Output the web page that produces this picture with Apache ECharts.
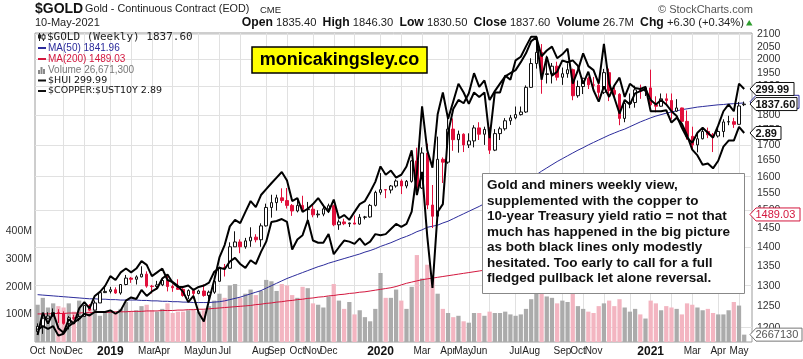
<!DOCTYPE html>
<html><head><meta charset="utf-8">
<script src="https://cdn.jsdelivr.net/npm/echarts@6/dist/echarts.min.js"></script>
<style>html,body{margin:0;padding:0;background:#fff}#c{width:803px;height:359px}</style>
</head><body><div id="c"></div>
<script>
// ---------- data (weekly, first week = 2018-10-01) ----------
const opens = [1191,1203,1222,1227,1235,1233,1210,1223,1222,1226,
1252,1241,1258,1283,1286,1290,1282,1303,1319,1316,
1322,1329,1299,1298,1302,1313,1298,1295,1291,1276,
1288,1281,1287,1276,1284,1311,1346,1344,1400,1413,
1400,1416,1426,1419,1457,1509,1523,1537,1529,1515,
1499,1515,1503,1504,1488,1490,1505,1514,1460,1468,
1463,1465,1462,1481,1482,1515,1553,1561,1560,1572,
1587,1572,1586,1649,1566,1674,1516,1484,1654,1645,
1752,1717,1735,1700,1713,1756,1735,1751,1683,1737,
1753,1780,1790,1801,1810,1897,1985,2028,1944,1947,
1975,1934,1947,1962,1867,1900,1930,1906,1905,1879,
1951,1886,1872,1788,1840,1843,1888,1883,1895,1835,
1830,1856,1850,1813,1824,1778,1728,1700,1720,1744,
1733,1729,1744,1776,1777,1768,1835.4];
const highs = [1210,1233,1236,1245,1243,1238,1227,1230,1232,1252,
1255,1264,1285,1300,1297,1296,1304,1327,1322,1326,
1349,1336,1302,1312,1320,1326,1303,1316,1296,1291,
1292,1290,1303,1288,1314,1348,1355,1412,1442,1420,
1424,1453,1434,1464,1520,1546,1546,1565,1566,1519,
1531,1543,1525,1519,1501,1513,1520,1517,1475,1477,
1466,1486,1490,1485,1519,1558,1611,1563,1575,1592,
1592,1590,1651,1691,1692,1704,1575,1727,1660,1788,
1788,1747,1738,1738,1765,1775,1760,1758,1752,1760,
1789,1800,1829,1829,1904,2005,2089,2060,2015,1987,
1992,1970,1986,1966,1922,1932,1936,1935,1914,1965,
1966,1897,1876,1848,1875,1903,1907,1902,1962,1865,
1875,1875,1875,1855,1825,1815,1760,1740,1755,1757,
1739,1760,1785,1797,1790,1845,1846.3];
const lows = [1187,1186,1220,1225,1211,1207,1196,1218,1215,1226,
1239,1240,1258,1282,1281,1280,1278,1301,1307,1303,
1321,1295,1281,1291,1299,1286,1285,1290,1273,1267,
1267,1279,1273,1266,1280,1310,1323,1342,1400,1383,
1395,1400,1412,1400,1455,1480,1500,1522,1506,1485,
1495,1497,1465,1481,1480,1484,1493,1456,1446,1459,
1454,1461,1460,1475,1480,1512,1546,1536,1550,1567,
1548,1565,1582,1563,1563,1504,1451,1480,1581,1640,
1681,1675,1677,1690,1692,1716,1700,1671,1680,1716,
1747,1766,1785,1798,1807,1895,1966,1874,1911,1911,
1922,1906,1932,1851,1860,1873,1891,1894,1860,1873,
1848,1858,1765,1775,1823,1825,1856,1866,1830,1809,
1828,1832,1785,1810,1764,1717,1687,1676,1718,1722,
1677,1724,1725,1765,1756,1767,1830.5];
const closes = [1203,1222,1227,1235,1233,1210,1223,1222,1226,1252,
1241,1258,1283,1286,1290,1282,1303,1319,1316,1322,
1329,1299,1298,1302,1313,1298,1295,1291,1276,1288,
1281,1287,1276,1284,1311,1346,1344,1400,1413,1400,
1416,1426,1419,1457,1509,1523,1537,1529,1515,1499,
1515,1503,1504,1488,1490,1505,1514,1460,1468,1463,
1465,1462,1481,1482,1515,1553,1561,1560,1572,1587,
1572,1586,1649,1566,1674,1516,1484,1654,1645,1752,
1717,1735,1700,1713,1756,1735,1751,1683,1737,1753,
1780,1790,1801,1810,1897,1985,2028,1944,1947,1975,
1934,1947,1962,1867,1900,1930,1906,1905,1879,1951,
1886,1872,1788,1840,1843,1888,1883,1895,1835,1830,
1856,1850,1813,1824,1778,1728,1700,1720,1744,1733,
1729,1744,1776,1777,1768,1831,1837.6];
// volume, millions
const volumes = [135,160,125,140,130,125,140,110,150,130,
120,125,95,110,115,105,120,145,110,115,
130,135,115,110,120,140,105,110,110,115,
120,110,115,130,150,175,160,205,210,160,
175,190,170,185,225,220,185,210,205,170,
160,200,195,140,135,125,165,210,150,120,
145,100,115,90,75,120,250,160,160,190,
150,120,200,315,230,280,230,175,120,105,
90,95,75,70,105,105,95,110,105,105,
110,100,95,100,120,155,185,185,165,160,
140,150,145,180,130,120,110,105,130,140,
150,130,155,125,110,120,100,85,150,140,
115,130,125,120,100,140,135,125,115,120,
105,100,100,115,145,132,26.6713];
const ma50 = [1278,1277,1276,1275,1274,1273,1272,1271,1270,1269,1268,1268,1267,1267,
1266,1266,1265,1265,1265,1265,1264,1264,1263,1263,1262,1262,1261,1261,1260,1260,1259,1259,1259,1259,1260,
1261,1263,1266,1269,1272,1276,1280,1284,1288,1294,1300,1306,1312,1318,1323,1328,1333,1338,
1343,1348,1352,1357,1361,1365,1369,1373,1377,1381,1386,1390,1395,
1401,1406,1411,1417,1423,1428,1434,1441,1446,1453,1456,1459,1465,
1470,1477,1484,1491,1498,1505,1512,1520,1528,1535,1543,1551,1559,
1567,1576,1585,1595,1606,1617,1627,1637,1647,1656,1665,1674,1683,
1691,1700,1708,1716,1724,1732,1739,1746,1752,1760,1768,1776,1783,
1790,1796,1801,1806,1810,1814,1818,1821,1824,1827,1829,1831,1833,1835,1836,1838,1839,1840,1841.96];
const ma200 = [1232,1232,1232,1233,1233,1233,1234,1234,1234,1235,1235,1235,1236,1236,1236,1237,1237,1237,
1238,1238,1238,1239,1239,1239,1240,1240,1240,1241,1241,1242,1242,1243,1243,1244,1245,1246,
1247,1248,1249,1250,1251,1252,1254,1255,1257,1258,1260,1261,1263,1264,1266,1267,1269,1270,
1272,1273,1275,1276,1278,1279,1281,1282,1284,1285,1287,1289,1291,1293,1295,1298,1302,1306,
1309,1312,1315,1317,1319,1321,1323,1325,1327,1329,1331,1333,1335,1337,1339,
1342,1345,1348,1351,1354,1357,1360,1363,1366,1369,1372,1375,1378,1381,1384,1387,1390,1393,1396,1399,
1402,1405,1408,1411,1414,1417,1420,1423,1426,1429,1432,1435,1438,1441,1444,1447,1450,1453,1456,1459,
1462,1465,1468,1471,1474,1477,1480,1483,1486,1489.03];
const hui = [140,150,145,150,143,141,147,145,152,155,
152,158,160,163,168,166,170,172,170,172,
176,174,168,170,172,166,165,163,160,155,
158,150,146,156,166,178,185,196,200,198,
205,212,208,216,220,224,228,232,226,212,
214,205,207,210,214,209,205,213,201,203,
200,205,210,212,218,225,236,230,233,228,
230,236,248,216,232,190,162,205,210,262,
282,290,287,296,315,302,308,290,298,305,
312,315,318,326,335,348,352,332,338,342,
330,334,340,305,318,335,322,318,305,345,
305,292,278,290,286,296,298,300,290,286,
290,286,280,276,266,258,254,262,266,262,
258,268,280,286,280,305,299.99];
const copperYield = [0.87,0.89,0.875,0.89,0.84,0.85,0.89,0.91,0.93,0.96,
0.95,0.97,0.97,0.97,0.98,0.96,0.98,1.04,1.06,1.05,
1.11,1.07,1.10,1.12,1.19,1.22,1.16,1.13,1.13,1.14,
1.11,1.13,1.14,1.16,1.24,1.27,1.26,1.32,1.35,1.30,
1.27,1.33,1.30,1.40,1.49,1.68,1.69,1.71,1.68,1.42,
1.51,1.55,1.70,1.50,1.48,1.48,1.56,1.38,1.44,1.50,
1.49,1.47,1.52,1.46,1.49,1.56,1.55,1.56,1.61,1.66,
1.63,1.66,1.79,2.26,3.40,2.60,2.34,3.24,3.70,3.15,
3.50,3.90,3.70,3.45,3.70,3.60,3.70,2.80,3.70,3.70,
4.10,4.00,4.50,4.60,4.90,5.20,5.20,4.00,4.60,4.10,
4.20,4.50,4.45,4.50,4.35,3.90,4.20,3.75,3.50,3.84,
3.60,3.86,4.05,3.60,3.90,3.80,3.78,3.83,3.30,3.30,
3.30,3.32,3.08,3.17,3.06,2.85,2.61,2.52,2.38,2.40,
2.33,2.44,2.66,2.76,2.76,3.00,2.89];
const priceTicks = [1200,1250,1300,1350,1400,1450,1500,1550,1600,1650,1700,1750,1800,1850,1900,1950,2000,2050,2100];
const priceGrid = [1200,1300,1400,1500,1600,1700,1800,1900,2000,2100];
const volTicks = [100,200,300,400];
const xTickLabels = [['2018-10-01','Oct'],['2018-10-29','Nov'],['2018-11-19','Dec'],['2019-01-07','2019'],
['2019-02-25','Mar'],['2019-03-18','Apr'],['2019-04-29','May'],['2019-05-20','Jun'],['2019-06-10','Jul'],
['2019-07-29','Aug'],['2019-08-19','Sep'],['2019-09-16','Oct'],['2019-10-07','Nov'],['2019-10-28','Dec'],
['2020-01-06','2020'],['2020-03-02','Mar'],['2020-04-06','Apr'],['2020-04-27','May'],['2020-05-18','Jun'],
['2020-07-06','Jul'],['2020-07-27','Aug'],['2020-09-07','Sep'],['2020-09-28','Oct'],['2020-10-19','Nov'],
['2021-01-04','2021'],['2021-03-01','Mar'],['2021-04-05','Apr'],['2021-05-03','May']];

// ---------- build ----------
const FONT = '"Liberation Sans", Arial, sans-serif';
const L = Math.log;
const N = opens.length;
const dates = [];
for (let i = 0; i < N + 1; i++) dates.push(new Date(Date.UTC(2018, 9, 1 + 7 * i)).toISOString().slice(0, 10));
const labelMap = new Map(xTickLabels);
const monthStart = new Set();
for (let i = 1; i < dates.length; i++) if (dates[i].slice(5, 7) !== dates[i - 1].slice(5, 7)) monthStart.add(i);

const candles = opens.map((o, i) => [L(o), L(closes[i]), L(lows[i]), L(highs[i])]);
const volData = volumes.map((v, i) => ({ value: v, itemStyle: { color: closes[i] < opens[i] ? '#f3b5c1' : '#ababab' } }));

const chart = echarts.init(document.getElementById('c'), null, { width: 803, height: 359 });
chart.setOption({
  animation: false,
  backgroundColor: '#fff',
  grid: { left: 35, right: 51, top: 33, bottom: 17, show: true, borderColor: '#9c9c9c', borderWidth: 1 },
  xAxis: {
    type: 'category', data: dates, boundaryGap: true,
    axisLine: { show: false }, axisTick: { show: false },
    axisLabel: {
      interval: (i, v) => labelMap.has(v),
      formatter: (v) => { const t = labelMap.get(v) || ''; return /^\d{4}$/.test(t) ? '{y|' + t + '}' : t; },
      showMinLabel: true, showMaxLabel: true,
      color: '#222', fontSize: 10, fontFamily: FONT, margin: 4,
      rich: { y: { fontWeight: 'bold', fontSize: 12, fontFamily: FONT, color: '#111' } }
    },
    splitLine: { show: true, interval: (i) => monthStart.has(i), alignWithLabel: true, lineStyle: { color: '#e1e1e1', width: 1 } }
  },
  yAxis: [
    { type: 'value', position: 'right', min: L(1167.8), max: L(2104),
      axisLine: { show: false }, axisTick: { show: false, customValues: priceGrid.map(L) },
      axisLabel: { customValues: priceTicks.map(L), formatter: v => String(Math.round(Math.exp(v))), color: '#333', fontSize: 10.5, fontFamily: FONT, margin: 5 },
      splitLine: { show: true, lineStyle: { color: '#e1e1e1', width: 1 } } },
    { type: 'value', position: 'left', min: 0, max: 1119.6,
      axisLine: { show: false }, axisTick: { show: false },
      axisLabel: { customValues: volTicks, formatter: v => v + 'M', color: '#333', fontSize: 10.5, fontFamily: FONT, margin: 3 },
      splitLine: { show: false } },
    { type: 'value', show: false, min: L(137.0), max: L(356.8) },
    { type: 'value', show: false, min: L(0.808), max: L(5.317) }
  ],
  series: [
    { type: 'bar', yAxisIndex: 1, data: volData, barCategoryGap: '18%', z: 1, silent: true },
    { type: 'line', yAxisIndex: 0, data: ma200.map(L), symbol: 'none', lineStyle: { color: '#d3173e', width: 1 }, z: 2, silent: true },
    { type: 'line', yAxisIndex: 0, data: ma50.map(L), symbol: 'none', lineStyle: { color: '#2b2b9b', width: 1 }, z: 2, silent: true },
    { type: 'candlestick', yAxisIndex: 0, data: candles, barWidth: 3, z: 3, silent: true,
      itemStyle: { color: '#ffffff', color0: '#e2103c', borderColor: '#111', borderColor0: '#e2103c', borderWidth: 1 } },
    { type: 'line', yAxisIndex: 2, data: hui.map(L), symbol: 'none', lineStyle: { color: '#000', width: 2 }, z: 4, silent: true },
    { type: 'line', yAxisIndex: 3, data: copperYield.map(L), symbol: 'none', lineStyle: { color: '#000', width: 2 }, z: 4, silent: true }
  ]
});

// ---------- graphics ----------
function text(x, y, t, font, fill, align, z) {
  return { type: 'text', x: x, y: y, z: z || 50, silent: true,
    style: { text: t, font: font, fill: fill, align: align || 'left', textAlign: align || 'left', verticalAlign: 'middle', textVerticalAlign: 'middle' } };
}
function dash(y, color) {
  return { type: 'line', z: 50, silent: true, shape: { x1: 38, y1: y, x2: 46, y2: y }, style: { stroke: color, lineWidth: 2 } };
}
function tag(y, label, stroke, fill, bold, w, z) {
  const x0 = 750, h = 6.5;
  return [
    { type: 'polygon', z: z, silent: true, shape: { points: [[x0, y], [x0 + 6, y - h], [x0 + w, y - h], [x0 + w, y + h], [x0 + 6, y + h]] },
      style: { fill: '#fff', stroke: stroke, lineWidth: 1 } },
    text(x0 + 5.5, y + 0.5, label, (bold ? 'bold ' : '') + '11px ' + FONT, fill, 'left', z + 1)
  ];
}
const last = N - 1;
const fmtInt = n => Math.round(n).toString().replace(/\B(?=(\d{3})+(?!\d))/g, ',');
const G = [];
// header
G.push(text(35, 9.5, '$GOLD', 'bold 14px ' + FONT, '#111'));
G.push(text(85, 9.5, 'Gold - Continuous Contract (EOD)', '10.8px ' + FONT, '#222'));
G.push(text(260, 10, 'CME', '9.5px ' + FONT, '#222'));
G.push(text(35, 23, '10-May-2021', '11px ' + FONT, '#222'));
G.push({ type: 'text', x: 744, y: 23, z: 50, silent: true, style: {
  text: '{b|Open} 1835.40  {b|High} 1846.30  {b|Low} 1830.50  {b|Close} 1837.60  {b|Volume} 26.7M  {b|Chg} +6.30 (+0.34%)',
  font: '11.2px ' + FONT, fill: '#222', align: 'right', textAlign: 'right', verticalAlign: 'middle', textVerticalAlign: 'middle',
  rich: { b: { font: 'bold 12.2px ' + FONT, fill: '#111' } } } });
G.push({ type: 'polygon', z: 50, silent: true, shape: { points: [[746, 25.5], [752.5, 25.5], [749.2, 20]] }, style: { fill: '#2e9e2e' } });
G.push(text(658, 9.5, '\u00A9 StockCharts.com', '11px ' + FONT, '#555'));
// legend
G.push({ type: 'line', z: 50, silent: true, shape: { x1: 39.5, y1: 33, x2: 39.5, y2: 41 }, style: { stroke: '#222', lineWidth: 1 } });
G.push({ type: 'rect', z: 50, silent: true, shape: { x: 38, y: 34.5, width: 3, height: 4 }, style: { fill: '#222' } });
G.push({ type: 'line', z: 50, silent: true, shape: { x1: 43.5, y1: 33.5, x2: 43.5, y2: 41 }, style: { stroke: '#222', lineWidth: 1 } });
G.push({ type: 'rect', z: 50, silent: true, shape: { x: 42, y: 35, width: 3, height: 4 }, style: { fill: '#fff', stroke: '#222', lineWidth: 1 } });
G.push(text(47, 37, '$GOLD (Weekly) ' + closes[last].toFixed(2), '11px "DejaVu Sans Mono", monospace', '#222'));
G.push(dash(48, '#2b2b9b'));
G.push(text(48, 48, 'MA(50) ' + ma50[last].toFixed(2), '10px ' + FONT, '#2b2b9b'));
G.push(dash(59, '#d3173e'));
G.push(text(48, 59, 'MA(200) ' + ma200[last].toFixed(2), '10px ' + FONT, '#d3173e'));
[[38, 4], [40.5, 7], [43, 5]].forEach(b => G.push({ type: 'rect', z: 50, silent: true, shape: { x: b[0], y: 74 - b[1], width: 2, height: b[1] }, style: { fill: '#888' } }));
G.push(text(48, 70, 'Volume ' + fmtInt(volumes[last] * 1e6), '10px ' + FONT, '#777'));
G.push(dash(80.5, '#111'));
G.push(text(48, 80.5, '$HUI ' + hui[last].toFixed(2), '9.5px "DejaVu Sans", sans-serif', '#111'));
G.push(dash(91, '#111'));
G.push(text(48, 91, '$COPPER:$UST10Y ' + copperYield[last].toFixed(2), '9.5px "DejaVu Sans", sans-serif', '#111'));
// logo
G.push({ type: 'rect', z: 55, silent: true, shape: { x: 252, y: 47, width: 175, height: 26 }, style: { fill: '#ffff00', stroke: '#000', lineWidth: 1.5 } });
G.push(text(339.5, 60.5, 'monicakingsley.co', 'bold 18px ' + FONT, '#000', 'center', 56));
// annotation
G.push({ type: 'rect', z: 55, silent: true, shape: { x: 482.5, y: 173.5, width: 262, height: 120 }, style: { fill: '#fff', stroke: '#888', lineWidth: 1 } });
G.push({ type: 'text', x: 487, y: 178, z: 56, silent: true, style: {
  text: ['Gold and miners weekly view,', 'supplemented with the copper to', '10-year Treasury yield ratio = not that',
         'much has happened in the big picture', 'as both black lines only modestly', 'hesitated. Too early to call for a full',
         'fledged pullback let alone reversal.'].join('\n'),
  font: 'bold 13.5px ' + FONT, fill: '#111', lineHeight: 15.5, align: 'left', textAlign: 'left', verticalAlign: 'top', textVerticalAlign: 'top' } });
// value tags on the right
const yPrice = v => chart.convertToPixel({ yAxisIndex: 0 }, L(v));
const yHui = chart.convertToPixel({ yAxisIndex: 2 }, L(hui[last]));
const yCu = chart.convertToPixel({ yAxisIndex: 3 }, L(copperYield[last]));
const yVol = chart.convertToPixel({ yAxisIndex: 1 }, volumes[last]);
G.push(...tag(yPrice(ma200[last]), ma200[last].toFixed(2), '#d3173e', '#d3173e', false, 50, 60));
G.push(...tag(yVol, String(Math.round(volumes[last] * 1e5)), '#777', '#555', false, 52, 60));
G.push(...tag(yPrice(ma50[last]) - 1, '', '#2b2b9b', '#2b2b9b', true, 49, 62));
G.push(...tag(yPrice(closes[last]), closes[last].toFixed(2), '#111', '#111', true, 47, 64));
G.push(...tag(yHui, hui[last].toFixed(2), '#111', '#111', true, 44, 66));
G.push(...tag(yCu, copperYield[last].toFixed(2), '#111', '#111', true, 31, 68));
chart.setOption({ graphic: G });
</script></body></html>
